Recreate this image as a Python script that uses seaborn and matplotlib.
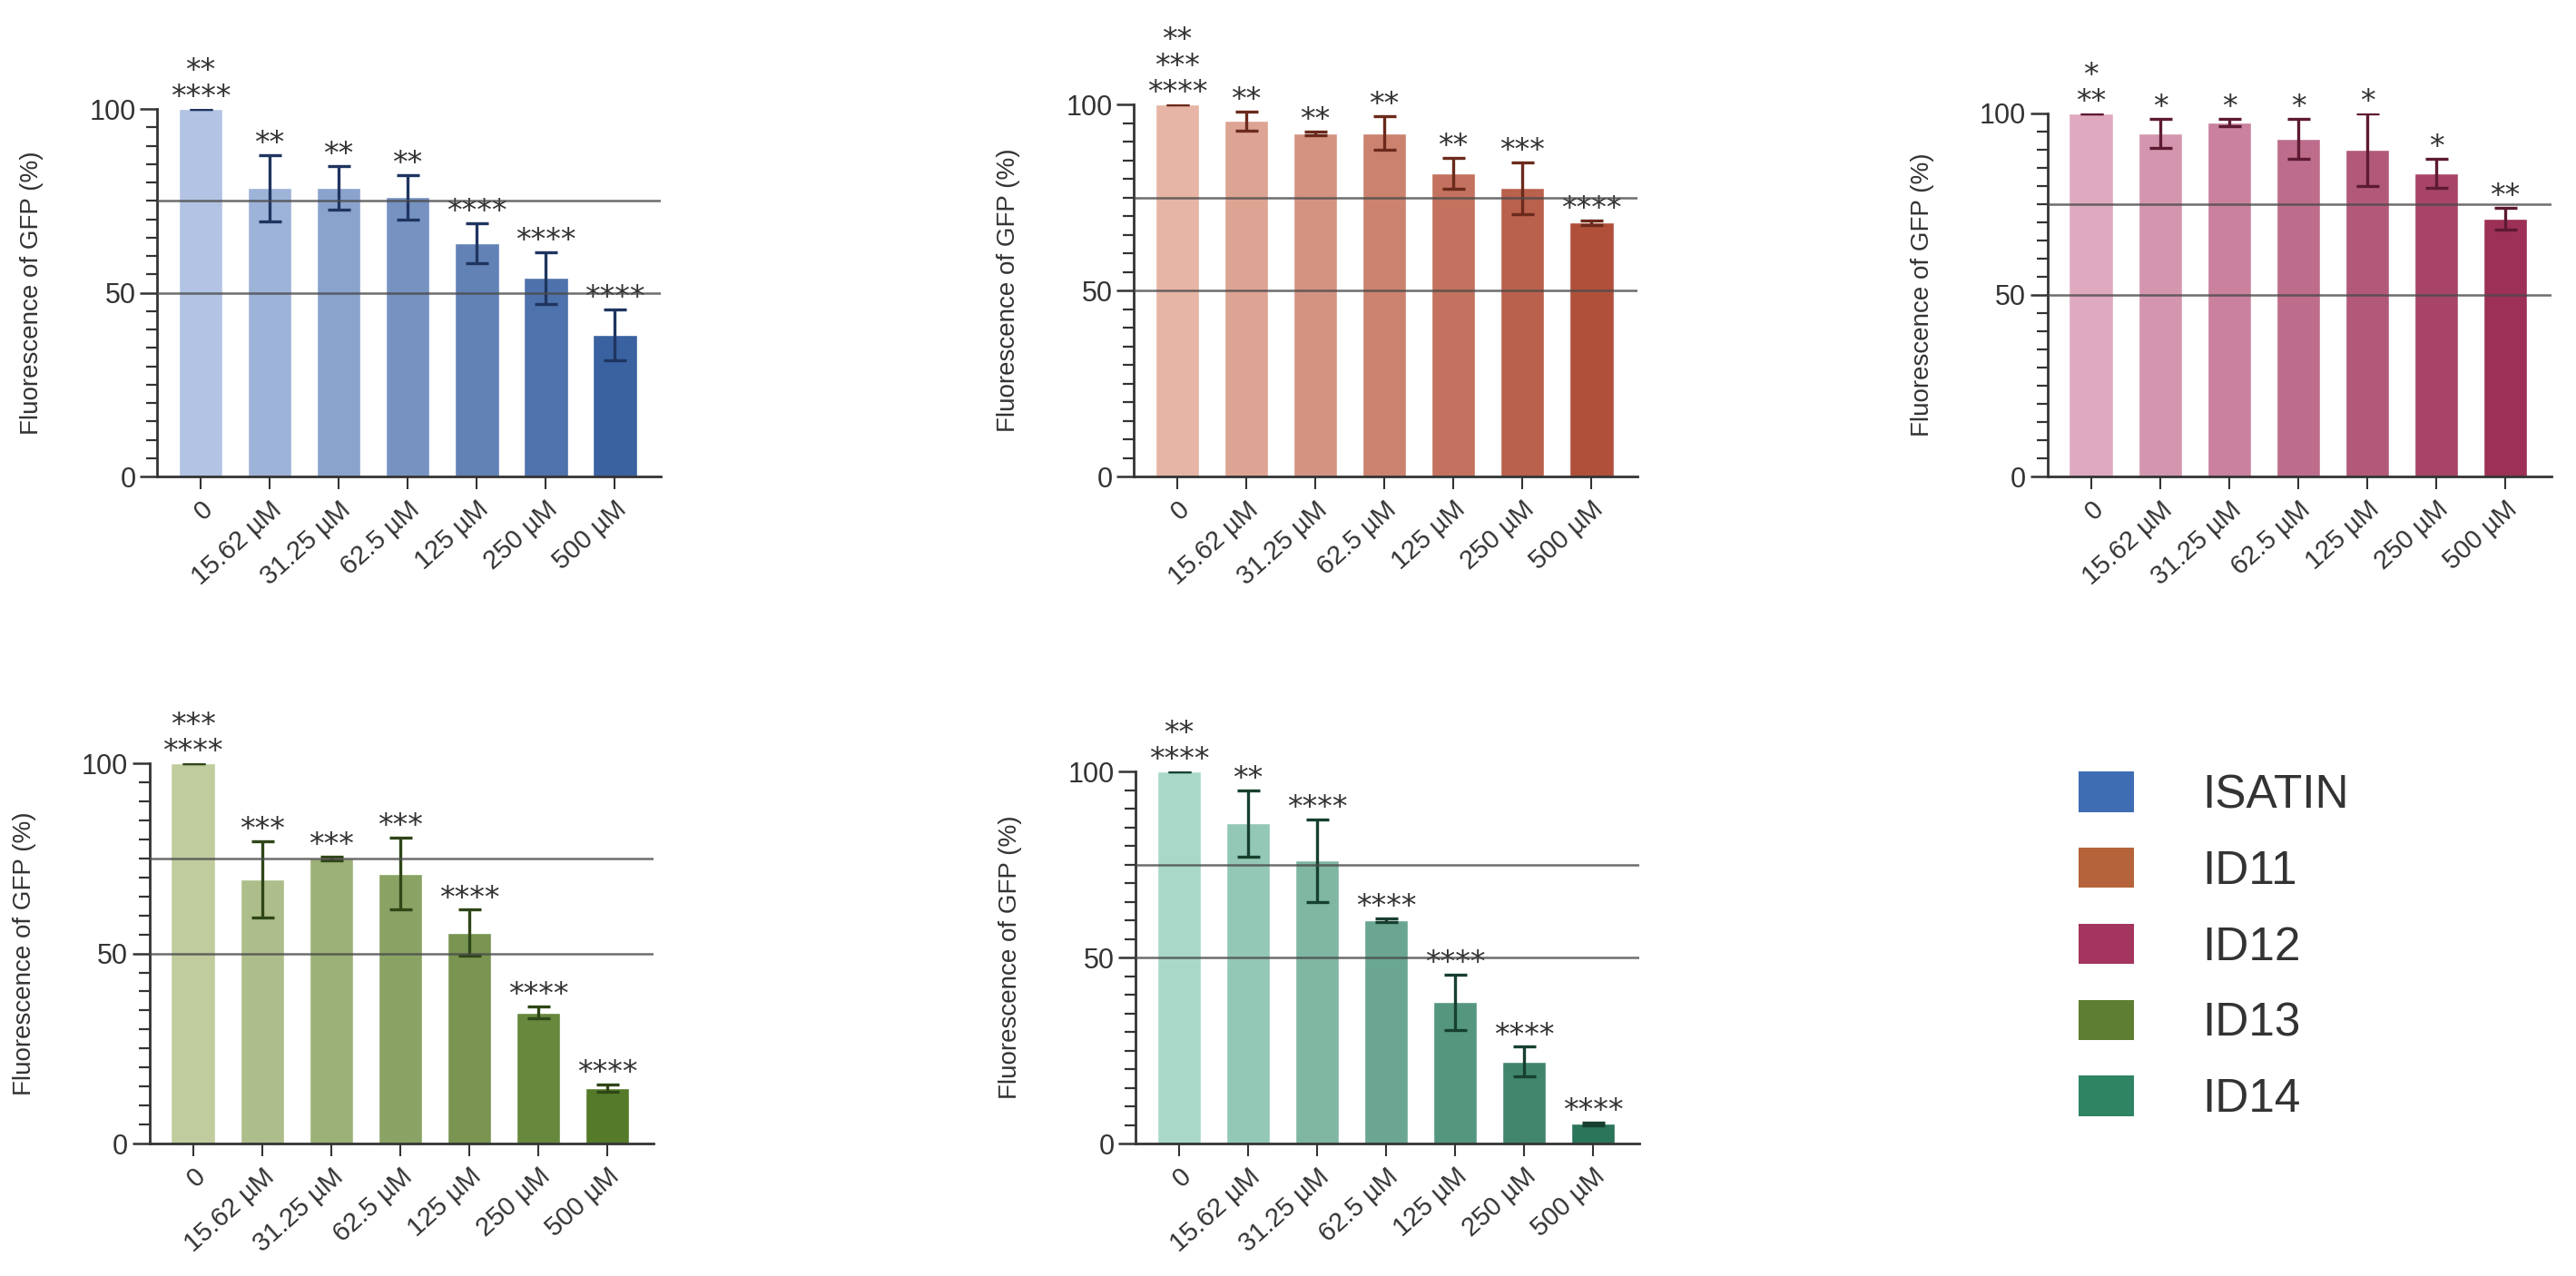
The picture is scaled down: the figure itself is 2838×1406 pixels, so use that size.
import matplotlib
matplotlib.use("Agg")
import matplotlib.pyplot as plt
from matplotlib.patches import Patch
from matplotlib.ticker import MultipleLocator
import seaborn as sns
import pandas as pd

# doses (x categories), shared by every panel
doses = ["0", "15.62 µM", "31.25 µM", "62.5 µM", "125 µM", "250 µM", "500 µM"]

# mean fluorescence (%) and error for each compound
isatin_vals = [100, 78.5, 78.5, 76, 63.5, 54, 38.5]
isatin_err = [0, 9, 6, 6, 5.5, 7, 7]
isatin_stars = ["**\n****", "**", "**", "**", "****", "****", "****"]

id11_vals = [100, 95.5, 92.3, 92.3, 81.5, 77.5, 68.2]
id11_err = [0, 2.5, 0.5, 4.5, 4.2, 7, 0.6]
id11_stars = ["**\n***\n****", "**", "**", "**", "**", "***", "****"]

id12_vals = [100, 94.5, 97.5, 93, 90, 83.5, 71]
id12_err = [0, 4, 1, 5.5, 10, 4, 3]
id12_stars = ["*\n**", "*", "*", "*", "*", "*", "**"]

id13_vals = [100, 69.5, 75, 71, 55.5, 34.5, 14.5]
id13_err = [0, 10, 0.5, 9.5, 6, 1.5, 1]
id13_stars = ["***\n****", "***", "***", "***", "****", "****", "****"]

id14_vals = [100, 86, 76, 60, 38, 22, 5.3]
id14_err = [0, 9, 11, 0.5, 7.5, 4, 0.3]
id14_stars = ["**\n****", "**", "****", "****", "****", "****", "****"]

compounds = ["ISATIN", "ID11", "ID12", "ID13", "ID14"]

# light -> dark colours of each panel, legend colour, error bar colour
light_cols = ["#B2C3E3", "#E6B5A5", "#DFAAC0", "#C0CC9E", "#A9D8C8"]
dark_cols = ["#3A62A0", "#B0503A", "#9C3057", "#557A2A", "#2B755A"]
legend_cols = ["#3E6DB3", "#B5633A", "#A3355E", "#5E7E32", "#2E8463"]
err_cols = ["#1F3560", "#6B2A1C", "#5E1A33", "#2F4617", "#17402F"]

sns.set_style("white")
plt.rcParams["font.family"] = ["Liberation Sans", "DejaVu Sans"]
plt.rcParams["text.color"] = "#333333"
plt.rcParams["axes.labelcolor"] = "#333333"
plt.rcParams["xtick.color"] = "#333333"
plt.rcParams["ytick.color"] = "#333333"

fig = plt.figure(figsize=(28.38, 14.06), dpi=100)

# axes rectangles [left, bottom, width, height] in figure fractions
rects = [
    [0.0610, 0.6266, 0.1956, 0.2880],
    [0.4401, 0.6266, 0.1956, 0.2916],
    [0.7949, 0.6266, 0.1956, 0.2845],
    [0.0581, 0.1038, 0.1956, 0.2980],
    [0.4408, 0.1038, 0.1956, 0.2916],
]

all_vals = [isatin_vals, id11_vals, id12_vals, id13_vals, id14_vals]
all_err = [isatin_err, id11_err, id12_err, id13_err, id14_err]
all_stars = [isatin_stars, id11_stars, id12_stars, id13_stars, id14_stars]

for i, name in enumerate(compounds):
    ax = fig.add_axes(rects[i])
    df = pd.DataFrame({"dose": doses, "value": all_vals[i], "err": all_err[i]})
    pal = sns.blend_palette([light_cols[i], dark_cols[i]], len(doses))
    sns.barplot(data=df, x="dose", y="value", hue="dose", palette=pal,
                legend=False, width=0.64, saturation=1, ax=ax, zorder=2)
    ax.errorbar(range(len(doses)), df["value"], yerr=df["err"], fmt="none",
                ecolor=err_cols[i], elinewidth=2.4, capsize=9, capthick=2.4,
                zorder=3)

    # reference lines at 75 % and 50 %
    for ref in (75, 50):
        ax.axhline(ref, color="#4a4a4a", lw=1.8, alpha=0.8, zorder=4)

    # significance stars
    for j, s in enumerate(all_stars[i]):
        top = df["value"][j] + df["err"][j]
        ax.text(j, top - 1, s, ha="center", va="bottom", fontsize=24,
                family="DejaVu Sans", linespacing=0.85, color="#333333",
                clip_on=False)

    ax.set_ylim(0, 100)
    ax.set_xlim(-0.63, 6.67)
    ax.yaxis.set_major_locator(MultipleLocator(50))
    ax.yaxis.set_minor_locator(MultipleLocator(5))
    ax.tick_params(axis="y", which="major", length=14, width=1.8, labelsize=22,
                   pad=3, left=True)
    ax.tick_params(axis="y", which="minor", length=9, width=1.6, left=True)
    ax.tick_params(axis="x", length=10, width=1.5, labelsize=21, pad=6,
                   bottom=True)
    ax.set_xticks(range(len(doses)))
    ax.set_xticklabels(doses, rotation=42, ha="right", rotation_mode="anchor")
    ax.set_xlabel("")
    ax.set_ylabel("Fluorescence of GFP (%)", fontsize=20, labelpad=36)
    sns.despine(ax=ax)
    for side in ("left", "bottom"):
        ax.spines[side].set_linewidth(2.0)
        ax.spines[side].set_color("#333333")

# legend with one square per compound
handles = [Patch(facecolor=c, edgecolor="none") for c in legend_cols]
fig.legend(handles, compounds, loc="center left", bbox_to_anchor=(0.7905, 0.258),
           frameon=False, fontsize=37, handlelength=1.2, handleheight=0.95,
           labelspacing=0.64, handletextpad=1.45)

fig.savefig("out.png", dpi=100)
